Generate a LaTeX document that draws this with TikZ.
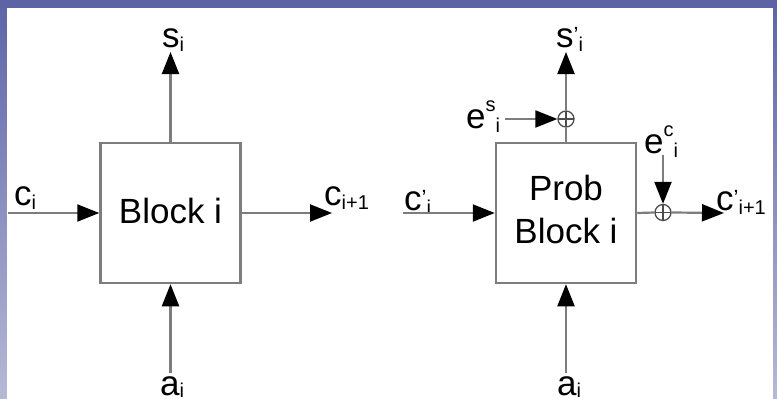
\documentclass[tikz,border=0pt]{standalone}
\usepackage{fontspec}
\setmainfont{Liberation Sans}
\usetikzlibrary{arrows.meta}
\definecolor{bandtop}{RGB}{92,100,166}
\definecolor{bandbot}{RGB}{182,185,214}
\definecolor{linegray}{RGB}{125,125,125}
\newcommand\lbsub[1]{\raisebox{-4pt}{\fontsize{20}{20}\selectfont #1}}
\newcommand\lbsubb[1]{\raisebox{-2pt}{\fontsize{20}{20}\selectfont #1}}
\newcommand\lbsup[1]{\raisebox{17pt}{\fontsize{20}{20}\selectfont #1}}
\newcommand\lbprime{\raisebox{5pt}{\fontsize{22}{22}\selectfont ’}}
\tikzset{
  wire/.style={draw=linegray, line width=2.2pt},
  arr/.style={wire, -{Triangle[length=22pt,width=17pt,color=black]}},
  blockbox/.style={draw=linegray, line width=2.5pt, minimum width=140pt, minimum height=140pt, inner sep=0pt},
  blocktext/.style={inner sep=0pt, align=center, font=\fontsize{35}{43}\selectfont},
  lbl/.style={inner sep=0pt, anchor=base west, font=\fontsize{35}{43}\selectfont},
  sumnode/.style={circle, draw=black!70, line width=1.3pt, minimum size=16pt, inner sep=0pt,
    path picture={\draw[black!70, line width=1.3pt]
      (path picture bounding box.north) -- (path picture bounding box.south)
      (path picture bounding box.west) -- (path picture bounding box.east);}}
}
\begin{document}
\begin{tikzpicture}[x=1pt, y=-1pt]
% background frame
\shade[top color=bandtop, bottom color=bandbot] (0,0) rectangle (777,399);
\fill[bandtop] (0,0) rectangle (777,8);
\fill[white] (7,8) rectangle (773,399);
\useasboundingbox (0,0) rectangle (777,399);

% ---------- left block ----------
\node[blockbox] (lbox) at (170.5,213) {};
\node[blocktext] (ltext) at (170.5,210.5) {Block i};

\node[lbl] (lsi) at (162,47) {s\lbsub{i}};
\node[lbl] (lci) at (14,205) {c\lbsub{i}};
\node[lbl] (lcn) at (324,205) {c\lbsub{i+1}};
\node[lbl] (lai) at (160,395) {a\lbsubb{i}};

\coordinate (lsiend) at (170.5,52);
\coordinate (lcistart) at (8,213);
\coordinate (lcnend) at (332,213);
\coordinate (laistart) at (170.5,373);

\draw[arr] (lbox.north) -- (lsiend);
\draw[arr] (lcistart) -- (lbox.west);
\draw[arr] (lbox.east) -- (lcnend);
\draw[arr] (laistart) -- (lbox.south);

% ---------- right block ----------
\node[blockbox] (rbox) at (566,213) {};
\node[blocktext] (rtext) at (566,209) {Prob\\Block i};

\node[sumnode] (ps) at (566,119) {};
\node[sumnode] (pc) at (663,212.5) {};

\node[lbl] (rsi) at (556,47) {s\lbprime\lbsub{i}};
\node[lbl] (res) at (466,128) {e\lbsup{s}\lbsub{i}};
\node[lbl] (rec) at (644,153) {e\lbsup{c}\lbsub{i}};
\node[lbl] (rci) at (404,210) {c\lbprime\lbsub{i}};
\node[lbl] (rcn) at (716,210) {c\lbprime\lbsub{i+1}};
\node[lbl] (rai) at (557,395) {a\lbsubb{i}};

\coordinate (rsiend) at (566,52);
\coordinate (resstart) at (505,119);
\coordinate (recstart) at (663,155);
\coordinate (rcistart) at (403,213);
\coordinate (rcnend) at (724,213);
\coordinate (raistart) at (566,373);

\draw[wire] (rbox.north) -- (ps.south);
\draw[arr] (ps.north) -- (rsiend);
\draw[arr] (resstart) -- (ps.west);
\draw[wire] (rbox.east) -- (pc.west);
\draw[arr] (pc.east) -- (rcnend);
\draw[arr] (recstart) -- (pc.north);
\draw[arr] (rcistart) -- (rbox.west);
\draw[arr] (raistart) -- (rbox.south);
\end{tikzpicture}
\end{document}
